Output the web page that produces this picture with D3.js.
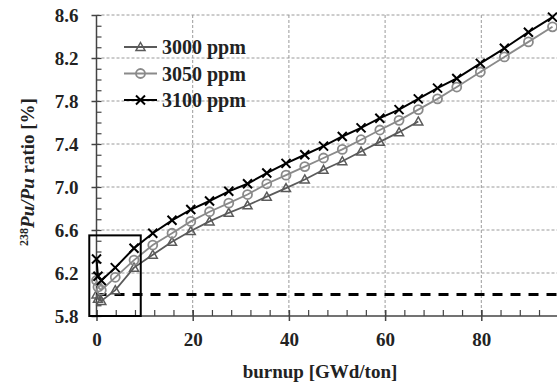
<!DOCTYPE html>
<html lang="en">
    <head>
        <meta charset="utf-8">
        <title>238Pu/Pu ratio vs burnup</title>
        <script src="https://d3js.org/d3.v7.min.js"></script>
        <style type="text/css">
            body { margin: 0; background: #fff; }
            text { font-family: "Liberation Serif", "Times New Roman", serif; font-weight: bold; }
        </style>
    </head>
    <body>
        <script type="text/javascript">
        //Data
        const burnup = [0, 0.3, 1, 3.9, 7.8, 11.7, 15.7, 19.6, 23.5, 27.5, 31.4, 35.4, 39.4, 43.3,
                        47.2, 51.1, 55.0, 58.9, 62.9, 66.9, 70.9, 74.9, 79.8, 84.8, 89.8, 94.8];
        const ppm3000 = [6.00, 5.96, 5.94, 6.04, 6.25, 6.37, 6.49, 6.59, 6.68, 6.76, 6.83, 6.91, 6.99,
                         7.07, 7.16, 7.24, 7.33, 7.42, 7.51, 7.61];
        const ppm3050 = [6.13, 6.07, 6.04, 6.16, 6.32, 6.46, 6.57, 6.68, 6.77, 6.85, 6.93, 7.03, 7.11,
                         7.19, 7.27, 7.35, 7.44, 7.53, 7.62, 7.72, 7.82, 7.93, 8.07, 8.21, 8.35, 8.49];
        const ppm3100 = [6.33, 6.17, 6.13, 6.25, 6.43, 6.57, 6.69, 6.79, 6.87, 6.96, 7.03, 7.13, 7.22,
                         7.30, 7.38, 7.47, 7.55, 7.64, 7.72, 7.82, 7.92, 8.01, 8.15, 8.29, 8.44, 8.58];
        const seriesNames = ["3000 ppm", "3050 ppm", "3100 ppm"];
        const xTicks = [0, 20, 40, 60, 80];
        const yTicks = [5.8, 6.2, 6.6, 7.0, 7.4, 7.8, 8.2, 8.6];
        const limitValue = 6.0;
        const boxX = [-1.5, 9.2];
        const boxY = [5.8, 6.55];

        //Constants
        const w = 557;
        const h = 385;
        const plotLeft = 96.5;
        const plotTop = 15;
        const plotBottom = 316;

        const series = [
            { name: seriesNames[0], values: ppm3000, color: "#5a5a5a", symbol: "tri" },
            { name: seriesNames[1], values: ppm3050, color: "#8a8a8a", symbol: "circ" },
            { name: seriesNames[2], values: ppm3100, color: "#000", symbol: "cross" }
        ];

        //Scales
        const xScale = d3.scaleLinear()
                         .domain([0, 96])
                         .range([plotLeft, plotLeft + 96 * 4.81]);

        const yScale = d3.scaleLinear()
                         .domain([5.8, 8.6])
                         .range([plotBottom, plotTop]);

        //SVG element
        const svg = d3.select("body")
                      .append("svg")
                      .attr("width", w)
                      .attr("height", h);

        //Grid
        svg.append("g")
           .selectAll("line")
           .data(yTicks.slice(1))
           .enter()
           .append("line")
           .attr("x1", plotLeft)
           .attr("x2", w)
           .attr("y1", d => yScale(d))
           .attr("y2", d => yScale(d))
           .attr("stroke", "#9a9a9a")
           .attr("stroke-dasharray", "3,2");

        svg.append("g")
           .selectAll("line")
           .data(xTicks.slice(1))
           .enter()
           .append("line")
           .attr("x1", d => xScale(d))
           .attr("x2", d => xScale(d))
           .attr("y1", plotTop)
           .attr("y2", plotBottom)
           .attr("stroke", "#9a9a9a")
           .attr("stroke-dasharray", "3,2");

        //Axes - minor ticks inside
        svg.append("g")
           .attr("transform", "translate(0," + plotBottom + ")")
           .call(d3.axisTop(xScale).tickValues(d3.range(0, 97, 4)).tickSize(6).tickFormat(""))
           .call(g => g.select(".domain").remove())
           .selectAll("line").attr("stroke", "#444").attr("stroke-width", 1.2);

        svg.append("g")
           .attr("transform", "translate(" + plotLeft + ",0)")
           .call(d3.axisRight(yScale).tickValues(d3.range(58, 87).map(d => d / 10)).tickSize(5).tickFormat(""))
           .call(g => g.select(".domain").remove())
           .selectAll("line").attr("stroke", "#444").attr("stroke-width", 1.2);

        //Major ticks + labels
        const bottomAxis = d3.axisBottom(xScale)
                             .tickValues(xTicks)
                             .tickSize(5)
                             .tickPadding(12);

        svg.append("g")
           .attr("class", "axis-x")
           .attr("transform", "translate(0," + plotBottom + ")")
           .call(bottomAxis)
           .call(g => g.select(".domain").attr("d", "M" + (plotLeft - 7) + ",0H" + w).attr("stroke", "#444").attr("stroke-width", 1.5))
           .call(g => g.selectAll(".tick line").attr("y1", -6).attr("stroke", "#444").attr("stroke-width", 1.5))
           .selectAll("text")
           .attr("font-size", "19px")
           .attr("fill", "#222");

        const leftAxis = d3.axisLeft(yScale)
                           .tickValues(yTicks)
                           .tickSize(5)
                           .tickPadding(13)
                           .tickFormat(d3.format(".1f"));

        svg.append("g")
           .attr("class", "axis-y")
           .attr("transform", "translate(" + plotLeft + ",0)")
           .call(leftAxis)
           .call(g => g.select(".domain").attr("d", "M0," + plotTop + "V" + plotBottom).attr("stroke", "#444").attr("stroke-width", 1.5))
           .call(g => g.selectAll(".tick line").attr("x2", 0).attr("x1", -5).attr("stroke", "#444").attr("stroke-width", 1.5))
           .selectAll("text")
           .attr("font-size", "19px")
           .attr("fill", "#222");

        //Dashed limit line
        svg.append("line")
           .attr("x1", xScale(0))
           .attr("x2", w)
           .attr("y1", yScale(limitValue))
           .attr("y2", yScale(limitValue))
           .attr("stroke", "#000")
           .attr("stroke-width", 3)
           .attr("stroke-dasharray", "10,8");

        //Markers
        function drawMarker(g, symbol, color) {
            if (symbol === "tri") {
                g.append("path").attr("d", "M0,-4.5L4.5,3.5L-4.5,3.5Z")
                 .attr("fill", "none").attr("stroke", color).attr("stroke-width", 1.5);
            } else if (symbol === "circ") {
                g.append("circle").attr("r", 4.5)
                 .attr("fill", "none").attr("stroke", color).attr("stroke-width", 1.8);
            } else {
                g.append("path").attr("d", "M-4.5,-4.5L4.5,4.5M-4.5,4.5L4.5,-4.5")
                 .attr("stroke", color).attr("stroke-width", 2);
            }
        }

        const line = d3.line()
                       .x((d, i) => xScale(burnup[i]))
                       .y(d => yScale(d));

        series.forEach(s => {
            svg.append("path")
               .datum(s.values)
               .attr("d", line)
               .attr("fill", "none")
               .attr("stroke", s.color)
               .attr("stroke-width", s.symbol === "cross" ? 2 : 1.8);

            svg.append("g")
               .selectAll("g")
               .data(s.values)
               .enter()
               .append("g")
               .attr("transform", (d, i) => "translate(" + xScale(burnup[i]) + "," + yScale(d) + ")")
               .each(function() { drawMarker(d3.select(this), s.symbol, s.color); });
        });

        //Box around start region
        svg.append("rect")
           .attr("x", xScale(boxX[0]))
           .attr("y", yScale(boxY[1]))
           .attr("width", xScale(boxX[1]) - xScale(boxX[0]))
           .attr("height", yScale(boxY[0]) - yScale(boxY[1]))
           .attr("fill", "none")
           .attr("stroke", "#000")
           .attr("stroke-width", 2);

        //Legend
        const legend = svg.append("g")
                          .attr("transform", "translate(124,47)");

        series.forEach((s, i) => {
            const row = legend.append("g").attr("transform", "translate(0," + (i * 26.5) + ")");
            row.append("line")
               .attr("x1", 0).attr("x2", 33)
               .attr("stroke", s.color)
               .attr("stroke-width", 2);
            drawMarker(row.append("g").attr("transform", "translate(16.5,0)"), s.symbol, s.color);
            row.append("text")
               .attr("x", 38)
               .attr("y", 7)
               .attr("font-size", "20px")
               .attr("fill", "#222")
               .text(s.name);
        });

        //Axis labels
        svg.append("text")
           .attr("x", 320)
           .attr("y", 378)
           .attr("text-anchor", "middle")
           .attr("font-size", "19px")
           .attr("fill", "#222")
           .text("burnup [GWd/ton]");

        const ylab = svg.append("text")
                        .attr("transform", "translate(34,172) rotate(-90)")
                        .attr("text-anchor", "middle")
                        .attr("font-size", "19px")
                        .attr("fill", "#222");
        ylab.append("tspan").attr("font-size", "12px").attr("dy", "-6").text("238");
        ylab.append("tspan").attr("font-style", "italic").attr("dy", "6").text("Pu/Pu");
        ylab.append("tspan").text(" ratio [%]");
        </script>
    </body>
</html>
